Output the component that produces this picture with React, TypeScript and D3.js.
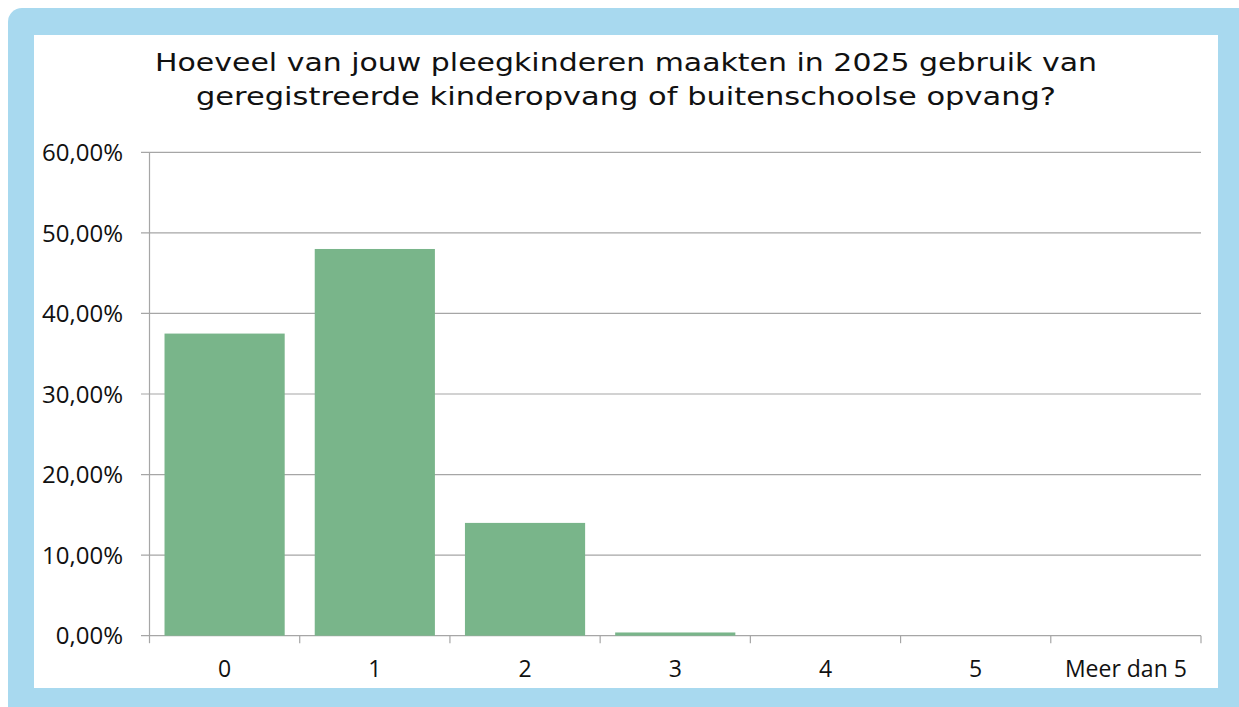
import React from "react";
import * as d3 from "d3";

const titleLines = [
  "Hoeveel van jouw pleegkinderen maakten in 2025 gebruik van",
  "geregistreerde kinderopvang of buitenschoolse opvang?",
];
const titleWidths = [942, 860];
const categories = ["0", "1", "2", "3", "4", "5", "Meer dan 5"];
const values = [0.375, 0.48, 0.14, 0.004, 0, 0, 0];
const yTicks = [0, 0.1, 0.2, 0.3, 0.4, 0.5, 0.6];

const W = 1239;
const H = 707;
const plot = { left: 149.5, right: 1201, top: 152.3, bottom: 635.7 };

export default function App() {
  const x = d3
    .scaleBand<string>()
    .domain(categories)
    .range([plot.left, plot.right])
    .paddingInner(0.2)
    .paddingOuter(0.1);
  const xb = d3.scaleBand<string>().domain(categories).range([plot.left, plot.right]);
  const y = d3.scaleLinear().domain([0, 0.6]).range([plot.bottom, plot.top]);
  const fmt = (v: number) => (v * 100).toFixed(2).replace(".", ",") + "%";
  const grid = "#A6A6A6";
  const boundaries = categories.map((c) => xb(c)!).concat([plot.right]);
  const labelFont = "'Open Sans', sans-serif";

  return (
    <svg
      width={W}
      height={H}
      style={{ position: "absolute", left: 0, top: 0 }}
    >
      <rect x={0} y={0} width={W} height={H} fill="#ffffff" />
      <rect x={8} y={8} width={W + 20} height={H + 20} rx={14} fill="#A8D9EF" />
      <rect x={34} y={35} width={1184} height={653} fill="#ffffff" />
      <g fontFamily="'DejaVu Sans', sans-serif" fontSize={25} fill="#111">
        {titleLines.map((t, i) => (
          <text
            key={i}
            x={626}
            y={70.5 + i * 34.5}
            textAnchor="middle"
            textLength={titleWidths[i]}
            lengthAdjust="spacingAndGlyphs"
          >
            {t}
          </text>
        ))}
      </g>
      {yTicks.map((t) => (
        <g key={t}>
          <line
            x1={141}
            x2={plot.right}
            y1={y(t)}
            y2={y(t)}
            stroke={grid}
            strokeWidth={1.2}
          />
          <text
            x={123}
            y={y(t)}
            dy="0.36em"
            textAnchor="end"
            fontFamily={labelFont}
            fontSize={24}
            fill="#111"
          >
            {fmt(t)}
          </text>
        </g>
      ))}
      <line x1={plot.left} x2={plot.left} y1={plot.top} y2={plot.bottom} stroke={grid} strokeWidth={1.2} />
      {boundaries.map((b, i) => (
        <line key={i} x1={b} x2={b} y1={plot.bottom} y2={plot.bottom + 7.5} stroke={grid} strokeWidth={1.2} />
      ))}
      {categories.map((c, i) => (
        <rect
          key={c}
          x={x(c)!}
          y={y(values[i])}
          width={x.bandwidth()}
          height={plot.bottom - y(values[i])}
          fill="#79B58A"
        />
      ))}
      {categories.map((c) => (
        <text
          key={c}
          x={xb(c)! + xb.bandwidth() / 2}
          y={677}
          textAnchor="middle"
          fontFamily={labelFont}
          fontSize={23}
          fill="#111"
        >
          {c}
        </text>
      ))}
    </svg>
  );
}
